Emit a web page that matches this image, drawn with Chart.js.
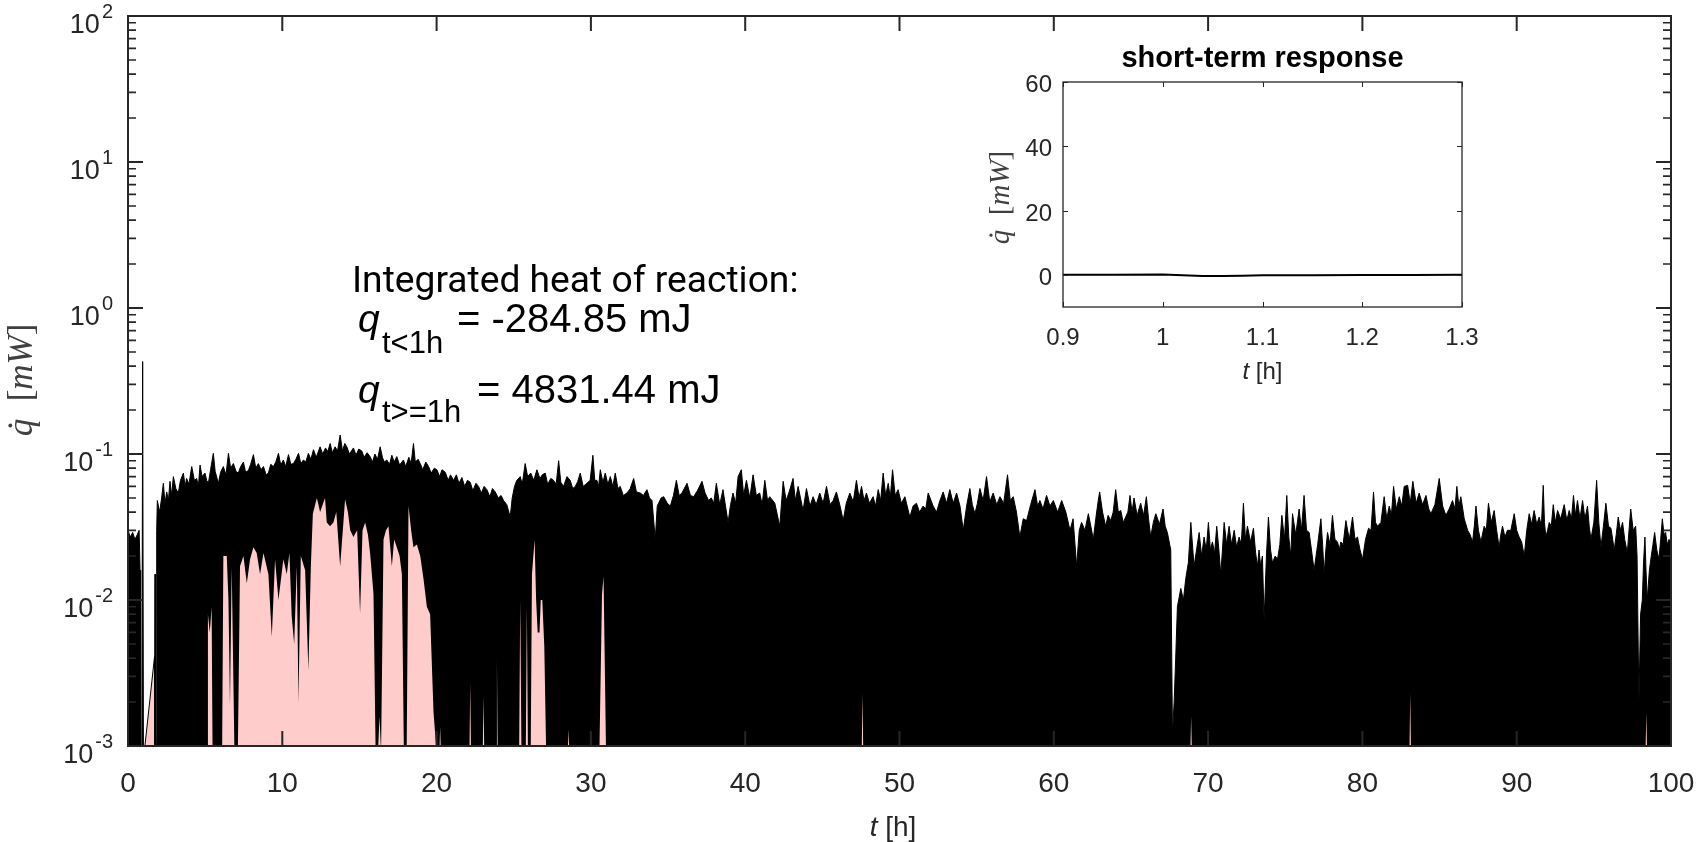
<!DOCTYPE html>
<html>
<head>
<meta charset="utf-8">
<script src="https://cdn.jsdelivr.net/npm/chart.js@4.4.0/dist/chart.umd.min.js"></script>
<style>
  html, body { margin: 0; padding: 0; background: #fff; }
  #wrap { position: relative; width: 1698px; height: 842px; }
  #main { position: absolute; left: 0; top: 0; }
  #inset { position: absolute; left: 960px; top: 30px; }
</style>
</head>
<body>
<div id="wrap">
  <canvas id="main" width="1698" height="842"></canvas>
  <canvas id="inset" width="520" height="370"></canvas>
</div>
<script>
// [t in h, q in mW] : upper edge of the noisy heat-flow trace (below it the trace runs down past 1e-3)
const traceStart = [
  [0, 0.030], [0.15, 0.027], [0.30, 0.029], [0.45, 0.026], [0.60, 0.028], [0.72, 0.030], [0.78, 0.016],
  [0.82, 0.0009], [0.90, 0.0009], [0.95, 0.43], [1.00, 0.0009], [1.72, 0.0009], [1.75, 0.015],
  [1.78, 0.0012], [1.84, 0.0009], [1.86, 0.030], [1.90, 0.048], [2.05, 0.040], [2.18, 0.050],
  [2.29, 0.063], [2.40, 0.046], [2.51, 0.055], [2.62, 0.048], [2.72, 0.065], [2.83, 0.052],
  [2.94, 0.070], [3.10, 0.058], [3.26, 0.054], [3.40, 0.066], [3.59, 0.074], [3.70, 0.060],
  [3.80, 0.068], [3.95, 0.062], [4.13, 0.082], [4.30, 0.066], [4.45, 0.068], [4.56, 0.060],
  [4.67, 0.084], [4.80, 0.070], [4.99, 0.074], [5.10, 0.066], [5.21, 0.063], [5.35, 0.078],
  [5.53, 0.101], [5.65, 0.076], [5.86, 0.063], [6.00, 0.075], [6.18, 0.082], [6.35, 0.072],
  [6.51, 0.101], [6.65, 0.080], [6.83, 0.086], [7.00, 0.076], [7.15, 0.074], [7.30, 0.082],
  [7.48, 0.088], [7.62, 0.075], [7.80, 0.077], [7.95, 0.085], [8.13, 0.099], [8.28, 0.080],
  [8.45, 0.086], [8.62, 0.078], [8.78, 0.082], [8.95, 0.072], [9.10, 0.074], [9.25, 0.085],
  [9.42, 0.082], [9.58, 0.088], [9.75, 0.101], [9.90, 0.084], [10.07, 0.091], [10.22, 0.082],
  [10.40, 0.099], [10.55, 0.085], [10.72, 0.086], [10.88, 0.092], [11.05, 0.101], [11.20, 0.086],
  [11.37, 0.091], [11.52, 0.088], [11.69, 0.101], [11.85, 0.092], [12.02, 0.107], [12.20, 0.095],
  [12.45, 0.112]
];
const traceMid = [
  [12.62, 0.100], [12.80, 0.110], [12.95, 0.104], [13.10, 0.118], [13.25, 0.102], [13.42, 0.112],
  [13.58, 0.105], [13.75, 0.135], [13.90, 0.105], [14.05, 0.118], [14.18, 0.112], [14.35, 0.100],
  [14.61, 0.110], [14.78, 0.098], [14.95, 0.108], [15.15, 0.105], [15.30, 0.095], [15.50, 0.102],
  [15.69, 0.096], [15.85, 0.088], [16.00, 0.100], [16.17, 0.092], [16.34, 0.112], [16.50, 0.094],
  [16.62, 0.088], [16.77, 0.091], [16.95, 0.085], [17.10, 0.098], [17.25, 0.088], [17.42, 0.096],
  [17.60, 0.084], [17.85, 0.091], [18.00, 0.082], [18.20, 0.095], [18.35, 0.086], [18.50, 0.118],
  [18.62, 0.088], [18.80, 0.092], [18.94, 0.086], [19.10, 0.078], [19.30, 0.088], [19.48, 0.082],
  [19.65, 0.074], [19.85, 0.080], [20.02, 0.078], [20.20, 0.070], [20.35, 0.078], [20.56, 0.075],
  [20.75, 0.066], [20.90, 0.072], [21.10, 0.066], [21.28, 0.072], [21.45, 0.063], [21.64, 0.069],
  [21.82, 0.060], [22.00, 0.066], [22.18, 0.064], [22.35, 0.056], [22.55, 0.063], [22.72, 0.060],
  [22.90, 0.054], [23.08, 0.060], [23.26, 0.057], [23.45, 0.051], [23.62, 0.058], [23.80, 0.055],
  [24.00, 0.050], [24.18, 0.052], [24.34, 0.048], [24.55, 0.045], [24.77, 0.037], [24.90, 0.050],
  [25.05, 0.060], [25.20, 0.066], [25.42, 0.070], [25.55, 0.062], [25.74, 0.086], [25.90, 0.070],
  [26.10, 0.074], [26.30, 0.066], [26.50, 0.078], [26.70, 0.068], [26.85, 0.072], [27.04, 0.074],
  [27.20, 0.062], [27.40, 0.068], [27.58, 0.066], [27.75, 0.062], [27.91, 0.090], [28.05, 0.064],
  [28.23, 0.060], [28.45, 0.070], [28.66, 0.066], [28.82, 0.058], [28.99, 0.060], [29.15, 0.065],
  [29.31, 0.074], [29.50, 0.060], [29.74, 0.063], [29.95, 0.066], [30.13, 0.098], [30.25, 0.066],
  [30.39, 0.066], [30.50, 0.060], [30.61, 0.078], [30.78, 0.064], [30.93, 0.074], [31.10, 0.062],
  [31.26, 0.070], [31.42, 0.060], [31.58, 0.074], [31.75, 0.058], [31.90, 0.060], [32.10, 0.052],
  [32.34, 0.054], [32.55, 0.058], [32.77, 0.068], [32.95, 0.055], [33.20, 0.054], [33.40, 0.052],
  [33.63, 0.057], [33.80, 0.050], [33.96, 0.048], [34.17, 0.026], [34.30, 0.044], [34.55, 0.050],
  [34.72, 0.051], [34.95, 0.046], [35.15, 0.044], [35.35, 0.052], [35.54, 0.066], [35.72, 0.052],
  [35.90, 0.054], [36.05, 0.058], [36.23, 0.063], [36.45, 0.052], [36.66, 0.051], [36.90, 0.056],
  [37.20, 0.065], [37.40, 0.054], [37.63, 0.048], [37.80, 0.050], [37.96, 0.046]
];
const traceLate = [
  [38.13, 0.063], [38.35, 0.045], [38.56, 0.057], [38.89, 0.034], [39.05, 0.045], [39.21, 0.054],
  [39.38, 0.046], [39.54, 0.070], [39.75, 0.078], [39.90, 0.052], [40.08, 0.066], [40.30, 0.050],
  [40.51, 0.072], [40.72, 0.052], [40.94, 0.054], [41.10, 0.045], [41.27, 0.066], [41.45, 0.048],
  [41.59, 0.051], [41.92, 0.046], [42.24, 0.032], [42.46, 0.065], [42.65, 0.048], [42.85, 0.055],
  [43.10, 0.068], [43.25, 0.048], [43.43, 0.060], [43.75, 0.041], [43.97, 0.058], [44.20, 0.044],
  [44.40, 0.051], [44.60, 0.045], [44.83, 0.054], [45.05, 0.046], [45.27, 0.060], [45.50, 0.045],
  [45.70, 0.048], [45.91, 0.055], [46.15, 0.044], [46.35, 0.035], [46.55, 0.046], [46.78, 0.054],
  [47.00, 0.047], [47.21, 0.066], [47.38, 0.050], [47.54, 0.060], [47.70, 0.048], [47.86, 0.054],
  [48.05, 0.046], [48.29, 0.051], [48.45, 0.044], [48.62, 0.057], [48.78, 0.048], [48.94, 0.074],
  [49.10, 0.052], [49.27, 0.063], [49.40, 0.050], [49.55, 0.078], [49.72, 0.052], [49.91, 0.057],
  [50.12, 0.046], [50.35, 0.051], [50.67, 0.037], [50.88, 0.044], [51.10, 0.046], [51.30, 0.040],
  [51.53, 0.044], [51.70, 0.042], [51.86, 0.054], [52.18, 0.044], [52.40, 0.040], [52.62, 0.048],
  [52.83, 0.055], [53.05, 0.046], [53.26, 0.057], [53.48, 0.046], [53.70, 0.054], [53.92, 0.044],
  [54.13, 0.030], [54.35, 0.044], [54.56, 0.058], [54.72, 0.045], [54.89, 0.039], [55.05, 0.046],
  [55.21, 0.058], [55.42, 0.048], [55.64, 0.070], [55.85, 0.047], [56.07, 0.054], [56.30, 0.045],
  [56.51, 0.051], [56.75, 0.046], [57.00, 0.072], [57.18, 0.048], [57.37, 0.051], [57.58, 0.040],
  [57.80, 0.027], [58.02, 0.036], [58.24, 0.035], [58.50, 0.045], [58.78, 0.057], [58.95, 0.044],
  [59.10, 0.048], [59.30, 0.042], [59.53, 0.052], [59.75, 0.044], [59.97, 0.048], [60.25, 0.040],
  [60.51, 0.048], [60.78, 0.040], [61.05, 0.030], [61.25, 0.036], [61.48, 0.017], [61.65, 0.030],
  [61.80, 0.034], [62.02, 0.030], [62.24, 0.039], [62.40, 0.032], [62.56, 0.026], [62.72, 0.036],
  [62.88, 0.048]
];
const traceLater = [
  [62.97, 0.055], [63.16, 0.040], [63.36, 0.032], [63.52, 0.038], [63.69, 0.035], [63.85, 0.040],
  [64.01, 0.057], [64.18, 0.040], [64.34, 0.041], [64.50, 0.034], [64.66, 0.037], [64.80, 0.040],
  [64.94, 0.052], [65.07, 0.040], [65.20, 0.050], [65.40, 0.038], [65.63, 0.046], [65.82, 0.038],
  [66.00, 0.051], [66.14, 0.036], [66.28, 0.027], [66.45, 0.034], [66.61, 0.039], [66.85, 0.033],
  [67.08, 0.042], [67.22, 0.032], [67.36, 0.029], [67.58, 0.022], [67.69, 0.0012], [67.80, 0.002],
  [67.90, 0.004], [68.01, 0.009], [68.23, 0.012], [68.40, 0.010], [68.55, 0.014], [68.72, 0.018],
  [68.88, 0.034], [69.09, 0.017], [69.25, 0.022], [69.42, 0.029], [69.58, 0.020], [69.74, 0.027],
  [69.88, 0.022], [70.02, 0.034], [70.15, 0.022], [70.28, 0.025], [70.42, 0.021], [70.56, 0.032],
  [70.70, 0.022], [70.82, 0.015], [70.93, 0.022], [71.04, 0.034], [71.20, 0.024], [71.36, 0.032],
  [71.52, 0.024], [71.69, 0.030], [71.85, 0.023], [72.01, 0.027], [72.15, 0.024], [72.29, 0.046],
  [72.42, 0.026], [72.55, 0.032], [72.75, 0.025], [72.94, 0.031], [73.08, 0.021], [73.20, 0.017],
  [73.30, 0.022], [73.41, 0.017], [73.52, 0.020], [73.63, 0.0073], [73.78, 0.020], [73.91, 0.037],
  [74.05, 0.022], [74.17, 0.018], [74.35, 0.020], [74.50, 0.019], [74.65, 0.024], [74.78, 0.038],
  [74.95, 0.026], [75.10, 0.052], [75.23, 0.027], [75.36, 0.020], [75.47, 0.039], [75.68, 0.028],
  [75.90, 0.042], [76.05, 0.030], [76.22, 0.052], [76.38, 0.030], [76.55, 0.029], [76.70, 0.022],
  [76.87, 0.016], [77.10, 0.024], [77.31, 0.036], [77.42, 0.024], [77.52, 0.015], [77.63, 0.022],
  [77.74, 0.029], [77.90, 0.024], [78.06, 0.038], [78.22, 0.026], [78.39, 0.025], [78.50, 0.022],
  [78.60, 0.025], [78.75, 0.024], [78.93, 0.035], [79.15, 0.026], [79.36, 0.037], [79.52, 0.026],
  [79.68, 0.027], [79.85, 0.022], [80.01, 0.019], [80.20, 0.026], [80.40, 0.031], [80.56, 0.030],
  [80.72, 0.055], [80.85, 0.034], [80.98, 0.032], [81.20, 0.034], [81.41, 0.051], [81.58, 0.036],
  [81.74, 0.044], [81.88, 0.038], [82.02, 0.060], [82.20, 0.042], [82.39, 0.051], [82.55, 0.044],
  [82.71, 0.060], [82.93, 0.061], [83.10, 0.046], [83.27, 0.065], [83.48, 0.046], [83.68, 0.054],
  [83.90, 0.045], [84.12, 0.052], [84.30, 0.042], [84.44, 0.039], [84.70, 0.045], [84.98, 0.068],
  [85.20, 0.044], [85.41, 0.038], [85.62, 0.042], [85.84, 0.048], [86.00, 0.042], [86.12, 0.060],
  [86.25, 0.044], [86.38, 0.051], [86.60, 0.036], [86.82, 0.030], [86.98, 0.028], [87.14, 0.025],
  [87.25, 0.032], [87.36, 0.044], [87.52, 0.030], [87.68, 0.025]
];
const traceEnd = [
  [87.89, 0.032], [88.03, 0.030], [88.17, 0.046], [88.35, 0.034], [88.54, 0.041], [88.70, 0.030],
  [88.86, 0.023], [88.97, 0.028], [89.08, 0.032], [89.24, 0.027], [89.40, 0.030], [89.62, 0.030],
  [89.84, 0.039], [90.00, 0.030], [90.16, 0.027], [90.32, 0.025], [90.49, 0.020], [90.65, 0.030],
  [90.81, 0.039], [90.97, 0.033], [91.13, 0.041], [91.30, 0.033], [91.46, 0.037], [91.60, 0.032],
  [91.72, 0.061], [91.80, 0.034], [91.89, 0.027], [92.00, 0.030], [92.11, 0.034], [92.24, 0.032],
  [92.37, 0.045], [92.50, 0.034], [92.65, 0.041], [92.85, 0.036], [93.08, 0.045], [93.25, 0.035],
  [93.40, 0.041], [93.55, 0.036], [93.68, 0.052], [93.80, 0.038], [93.94, 0.048], [94.10, 0.036],
  [94.27, 0.048], [94.42, 0.036], [94.59, 0.044], [94.70, 0.032], [94.81, 0.026], [95.00, 0.034],
  [95.18, 0.066], [95.32, 0.034], [95.46, 0.023], [95.62, 0.032], [95.78, 0.046], [95.95, 0.032],
  [96.11, 0.031], [96.22, 0.026], [96.32, 0.022], [96.45, 0.028], [96.58, 0.037], [96.72, 0.030],
  [96.86, 0.034], [97.00, 0.026], [97.17, 0.021], [97.28, 0.030], [97.39, 0.042], [97.55, 0.030],
  [97.71, 0.032], [97.80, 0.020], [97.92, 0.002], [98.03, 0.008], [98.14, 0.010], [98.22, 0.018],
  [98.31, 0.027], [98.38, 0.016], [98.46, 0.010], [98.60, 0.016], [98.72, 0.020], [98.83, 0.024],
  [98.94, 0.029], [99.08, 0.022], [99.22, 0.019], [99.33, 0.026], [99.44, 0.036], [99.55, 0.028],
  [99.65, 0.029], [99.76, 0.024], [99.87, 0.026], [100, 0.025]
];

// [t, q] : pink shaded part under the trace
const pinkArea = [
  [1.05, 0.0009], [1.72, 0.0041], [1.74, 0.0009], [5.12, 0.0009], [5.18, 0.008], [5.30, 0.006],
  [5.42, 0.009], [5.48, 0.0009], [6.10, 0.0009], [6.18, 0.020], [6.40, 0.020], [6.51, 0.010],
  [6.61, 0.0019], [6.72, 0.017], [6.90, 0.0009], [7.12, 0.0009], [7.26, 0.017], [7.48, 0.020],
  [7.70, 0.013], [7.91, 0.019], [8.13, 0.023], [8.34, 0.021], [8.56, 0.015], [8.78, 0.021],
  [9.10, 0.015], [9.32, 0.0056], [9.53, 0.019], [9.75, 0.010], [10.07, 0.019], [10.29, 0.015],
  [10.46, 0.021], [10.61, 0.0077], [10.77, 0.005], [10.94, 0.017], [11.05, 0.0020], [11.20, 0.020],
  [11.48, 0.016], [11.69, 0.0033], [11.85, 0.017], [11.98, 0.039], [12.24, 0.050], [12.45, 0.040],
  [12.77, 0.050], [12.88, 0.034], [13.10, 0.032], [13.31, 0.034], [13.50, 0.040], [13.75, 0.017],
  [14.07, 0.049], [14.25, 0.040], [14.40, 0.030], [14.61, 0.027], [14.85, 0.030], [15.04, 0.0081],
  [15.20, 0.030], [15.37, 0.034], [15.55, 0.028], [15.69, 0.021], [15.91, 0.011], [16.05, 0.0009],
  [16.20, 0.0009], [16.30, 0.0016], [16.40, 0.0009], [16.56, 0.026], [16.72, 0.030], [16.88, 0.032],
  [17.10, 0.017], [17.25, 0.026], [17.42, 0.023], [17.60, 0.020], [17.75, 0.015], [17.88, 0.0009],
  [18.06, 0.0009], [18.18, 0.044], [18.35, 0.030], [18.50, 0.023], [18.72, 0.024], [18.94, 0.020],
  [19.15, 0.014], [19.37, 0.009], [19.58, 0.008], [19.80, 0.0017], [20.00, 0.0009], [20.18, 0.0009],
  [20.23, 0.00135], [20.28, 0.0009], [22.13, 0.0009], [22.18, 0.0027], [22.23, 0.0009], [22.99, 0.0009],
  [23.04, 0.0022], [23.09, 0.0009], [23.86, 0.0009], [23.91, 0.0039], [23.96, 0.0009], [25.35, 0.0009],
  [25.42, 0.010], [25.50, 0.0009], [25.78, 0.0009], [25.85, 0.009], [25.92, 0.0009], [26.10, 0.0009],
  [26.18, 0.015], [26.35, 0.026], [26.45, 0.010], [26.55, 0.006], [26.67, 0.006], [26.75, 0.010],
  [26.85, 0.010], [26.98, 0.0048], [27.10, 0.0009], [28.50, 0.0009], [28.55, 0.0013], [28.60, 0.0009],
  [30.55, 0.0009], [30.72, 0.011], [30.82, 0.0145], [30.98, 0.0009], [47.55, 0.0009], [47.60, 0.0023],
  [47.65, 0.0009], [68.85, 0.0009], [68.90, 0.0016], [68.95, 0.0009], [83.05, 0.0009], [83.10, 0.0023],
  [83.15, 0.0009], [98.35, 0.0009], [98.40, 0.0017], [98.45, 0.0009]
];

const xTicks = [0, 10, 20, 30, 40, 50, 60, 70, 80, 90, 100];
const yDecades = [1e-3, 1e-2, 1e-1, 1, 10, 100];
const yExponents = ['-3', '-2', '-1', '0', '1', '2'];
const yMinorSteps = [2, 3, 4, 5, 6, 7, 8, 9];

// inset: first minutes after t = 1 h
const insetT = [0.90, 0.95, 1.00, 1.02, 1.04, 1.06, 1.08, 1.10, 1.15, 1.20, 1.25, 1.30];
const insetQ = [0.05, 0.05, 0.1, -0.1, -0.35, -0.35, -0.25, -0.15, -0.1, -0.05, -0.05, 0];
const insetXTicks = [0.9, 1, 1.1, 1.2, 1.3];
const insetYTicks = [0, 20, 40, 60];

const noteTitle = 'Integrated heat of reaction:';
const noteSubs = ['t<1h', 't>=1h'];
const noteValues = ['= -284.85 mJ', '= 4831.44 mJ'];

const ink = '#262626';
const sans = '"Liberation Sans", Arial, sans-serif';
const serif = '"Liberation Serif", "Times New Roman", serif';

function pairsToPoints(pairs) {
  return pairs.map(p => ({ x: p[0], y: p[1] }));
}

// rotated LaTeX-like label  q-dot [mW]
function drawQLabel(ctx, baseX, centerY, size) {
  ctx.save();
  ctx.translate(baseX, centerY);
  ctx.rotate(-Math.PI / 2);
  const it = 'italic ' + size + 'px ' + serif;
  const up = size + 'px ' + serif;
  const parts = [['q', it], ['\u2002[', up], ['mW', it], [']', up]];
  let total = 0;
  parts.forEach(p => { ctx.font = p[1]; p.push(ctx.measureText(p[0]).width); total += p[2]; });
  let cx = -total / 2;
  ctx.textAlign = 'left';
  ctx.textBaseline = 'alphabetic';
  parts.forEach((p, i) => {
    ctx.font = p[1];
    ctx.fillText(p[0], cx, 0);
    if (i === 0) {
      ctx.beginPath();
      ctx.arc(cx + p[2] * 0.62, -size * 0.62, size * 0.055, 0, Math.PI * 2);
      ctx.fill();
    }
    cx += p[2];
  });
  ctx.restore();
}

function drawTitleT(ctx, cx, baseY, size) {
  ctx.save();
  ctx.textBaseline = 'alphabetic';
  ctx.textAlign = 'left';
  ctx.font = 'italic ' + size + 'px ' + sans;
  const w1 = ctx.measureText('t').width;
  ctx.font = size + 'px ' + sans;
  const w2 = ctx.measureText(' [h]').width;
  const x = cx - (w1 + w2) / 2;
  ctx.font = 'italic ' + size + 'px ' + sans;
  ctx.fillText('t', x, baseY);
  ctx.font = size + 'px ' + sans;
  ctx.fillText(' [h]', x + w1, baseY);
  ctx.restore();
}

const mainFrame = {
  id: 'mainFrame',
  afterDraw(chart) {
    const { ctx, chartArea: a, scales: { x, y } } = chart;
    ctx.save();
    ctx.strokeStyle = ink;
    ctx.fillStyle = ink;

    // inward ticks on all four sides
    ctx.lineWidth = 2;
    ctx.beginPath();
    xTicks.forEach(v => {
      const px = x.getPixelForValue(v);
      ctx.moveTo(px, a.bottom); ctx.lineTo(px, a.bottom - 15);
      ctx.moveTo(px, a.top); ctx.lineTo(px, a.top + 15);
    });
    yDecades.forEach(v => {
      const py = y.getPixelForValue(v);
      ctx.moveTo(a.left, py); ctx.lineTo(a.left + 15, py);
      ctx.moveTo(a.right, py); ctx.lineTo(a.right - 15, py);
    });
    ctx.stroke();
    ctx.lineWidth = 1.6;
    ctx.beginPath();
    yDecades.slice(0, -1).forEach(v => {
      yMinorSteps.forEach(m => {
        const py = y.getPixelForValue(v * m);
        ctx.moveTo(a.left, py); ctx.lineTo(a.left + 8, py);
        ctx.moveTo(a.right, py); ctx.lineTo(a.right - 8, py);
      });
    });
    ctx.stroke();
    ctx.lineWidth = 2;
    ctx.strokeRect(a.left, a.top, a.right - a.left, a.bottom - a.top);

    // tick labels
    ctx.textBaseline = 'alphabetic';
    ctx.textAlign = 'center';
    ctx.font = '28px ' + sans;
    xTicks.forEach(v => ctx.fillText(String(v), x.getPixelForValue(v), a.bottom + 46));
    yDecades.forEach((v, i) => {
      const py = y.getPixelForValue(v);
      ctx.font = '20px ' + sans;
      const ew = ctx.measureText(yExponents[i]).width;
      ctx.textAlign = 'left';
      ctx.fillText(yExponents[i], a.left - 15 - ew, py + 2);
      ctx.font = '27px ' + sans;
      ctx.textAlign = 'right';
      ctx.fillText('10', a.left - 17 - ew, py + 17);
    });

    // axis titles
    drawTitleT(ctx, 893, 836, 28);
    ctx.fillStyle = '#404040';
    drawQLabel(ctx, 32, 380, 35);

    // annotation
    ctx.fillStyle = '#000';
    ctx.textAlign = 'left';
    ctx.font = '34px Roboto';
    const tw = ctx.measureText(noteTitle).width;
    ctx.font = (34 * 446 / tw).toFixed(1) + 'px Roboto';
    ctx.fillText(noteTitle, 352, 292);

    const lineBase = [332, 403];
    const subBase = [353, 422];
    const valueX = [457, 477];
    noteValues.forEach((val, i) => {
      ctx.font = 'italic 39px ' + sans;
      ctx.fillText('q', 358, lineBase[i]);
      ctx.font = '31px ' + sans;
      ctx.fillText(noteSubs[i], 382, subBase[i]);
      ctx.font = '40px ' + sans;
      ctx.fillText(val, valueX[i], lineBase[i]);
    });
    ctx.restore();
  }
};

const insetFrame = {
  id: 'insetFrame',
  beforeDatasetsDraw(chart) {
    const { ctx, chartArea: a } = chart;
    ctx.save();
    ctx.fillStyle = '#fff';
    ctx.fillRect(a.left, a.top, a.right - a.left, a.bottom - a.top);
    ctx.restore();
  },
  afterDraw(chart) {
    const { ctx, chartArea: a, scales: { x, y } } = chart;
    ctx.save();
    ctx.strokeStyle = ink;
    ctx.fillStyle = ink;
    ctx.lineWidth = 1;
    ctx.beginPath();
    insetXTicks.forEach(v => {
      const px = Math.round(x.getPixelForValue(v)) + 0.5;
      ctx.moveTo(px, a.bottom); ctx.lineTo(px, a.bottom - 5);
      ctx.moveTo(px, a.top); ctx.lineTo(px, a.top + 5);
    });
    insetYTicks.forEach(v => {
      const py = Math.round(y.getPixelForValue(v)) + 0.5;
      ctx.moveTo(a.left, py); ctx.lineTo(a.left + 5, py);
      ctx.moveTo(a.right, py); ctx.lineTo(a.right - 5, py);
    });
    ctx.stroke();
    ctx.lineWidth = 1.3;
    ctx.strokeRect(a.left, a.top, a.right - a.left, a.bottom - a.top);

    ctx.font = '24px ' + sans;
    ctx.textBaseline = 'alphabetic';
    ctx.textAlign = 'right';
    insetYTicks.forEach(v => ctx.fillText(String(v), a.left - 11, y.getPixelForValue(v) + 10));
    ctx.textAlign = 'center';
    insetXTicks.forEach(v => ctx.fillText(String(v), x.getPixelForValue(v), a.bottom + 38));

    ctx.fillStyle = '#000';
    ctx.font = 'bold 29px ' + sans;
    ctx.fillText('short-term response', (a.left + a.right) / 2, a.top - 15);

    ctx.fillStyle = ink;
    drawTitleT(ctx, (a.left + a.right) / 2, a.bottom + 72, 24);
    ctx.fillStyle = '#404040';
    drawQLabel(ctx, 49, (a.top + a.bottom) / 2 + 3, 29);
    ctx.restore();
  }
};

document.addEventListener('DOMContentLoaded', function() {
  const trace = traceStart.concat(traceMid, traceLate, traceLater, traceEnd);

  new Chart(document.getElementById('main'), {
    type: 'line',
    data: {
      datasets: [
        {
          data: pairsToPoints(pinkArea),
          fill: 'start',
          backgroundColor: '#ffcccc',
          borderColor: 'rgba(0,0,0,0)',
          borderWidth: 1,
          segment: { borderColor: c => c.p0.parsed.x < 1.8 ? '#000' : 'rgba(0,0,0,0)' },
          pointRadius: 0
        },
        {
          data: pairsToPoints(trace),
          fill: 'start',
          backgroundColor: '#000',
          borderColor: '#000',
          borderWidth: 1,
          pointRadius: 0
        }
      ]
    },
    options: {
      responsive: false,
      animation: false,
      layout: { padding: { left: 128, top: 16, right: 27, bottom: 96 } },
      elements: { line: { tension: 0 } },
      scales: {
        x: { type: 'linear', min: 0, max: 100, display: false },
        y: { type: 'logarithmic', min: 1e-3, max: 100, display: false }
      },
      plugins: { legend: { display: false }, tooltip: { enabled: false } }
    },
    plugins: [mainFrame]
  });

  new Chart(document.getElementById('inset'), {
    type: 'line',
    data: {
      datasets: [{
        data: insetT.map((t, i) => ({ x: t, y: insetQ[i] })),
        borderColor: '#000',
        borderWidth: 2,
        pointRadius: 0,
        fill: false
      }]
    },
    options: {
      responsive: false,
      animation: false,
      layout: { padding: { left: 103, top: 52, right: 18, bottom: 93 } },
      scales: {
        x: { type: 'linear', min: 0.9, max: 1.3, display: false },
        y: { type: 'linear', min: -10, max: 60, display: false }
      },
      plugins: { legend: { display: false }, tooltip: { enabled: false } }
    },
    plugins: [insetFrame]
  });
});
</script>
</body>
</html>
